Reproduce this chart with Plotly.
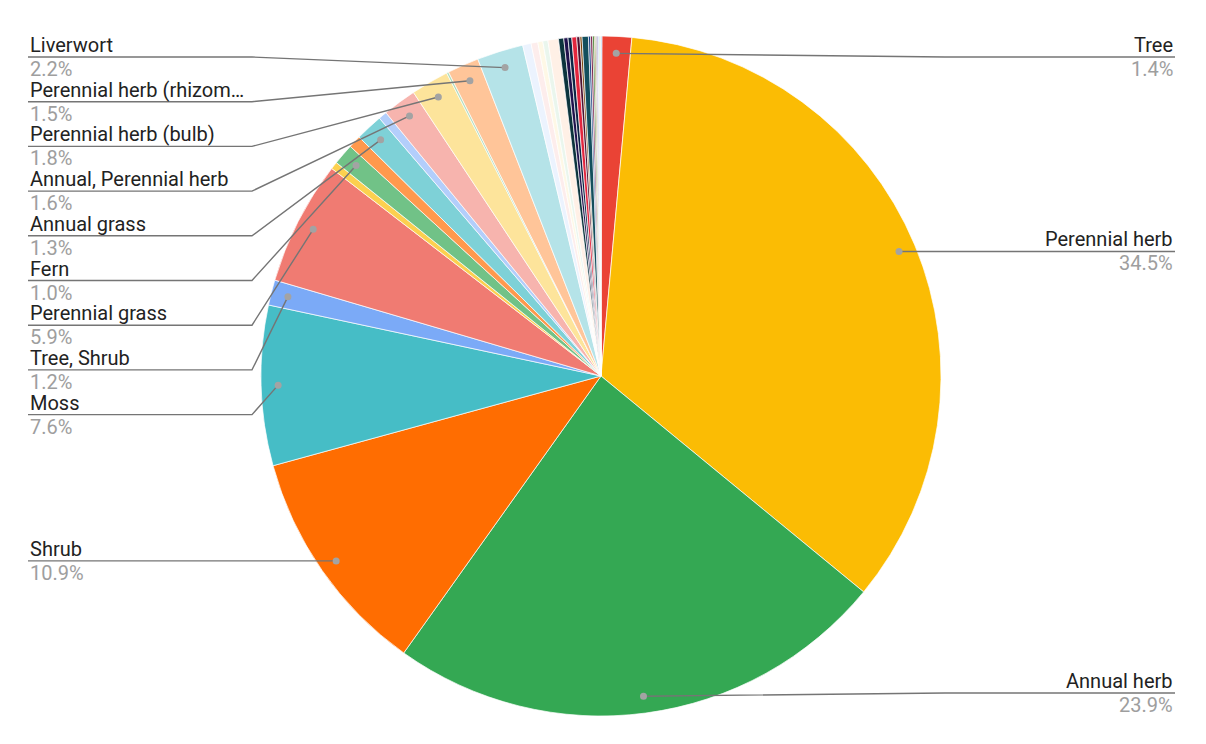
import plotly.graph_objects as go
import numpy as np

# slices in sheet order (clockwise from 12 o'clock)
names = ['Tree (seedling)', 'Tree', 'Perennial herb', 'Annual herb', 'Shrub', 'Moss',
         'Tree, Shrub', 'Perennial grass', 'Biennial herb', 'Fern', 'Vine',
         'Annual grass', 'Subshrub', 'Annual, Perennial herb', 'Perennial herb (bulb)',
         'Aquatic herb', 'Perennial herb (rhizome)', 'Liverwort',
         'Lichen', 'Hornwort', 'Succulent', 'Annual, Biennial herb', 'Perennial herb (tuber)',
         'Climber', 'Epiphyte', 'Parasite', 'Hemiparasite', 'Liana', 'Aquatic fern',
         'Tree fern', 'Cactus', 'Palm', 'Bamboo', 'Sedge', 'Rush', 'Clubmoss', 'Horsetail',
         'Geophyte', 'Cushion plant']
values = [0.05, 1.4, 34.5, 23.9, 10.9, 7.6,
          1.2, 5.9, 0.35, 1.0, 0.6,
          1.3, 0.4, 1.6, 1.8,
          0.1, 1.5, 2.2,
          0.4, 0.32, 0.24, 0.24, 0.5,
          0.25, 0.2, 0.18, 0.23, 0.15, 0.1, 0.3, 0.1, 0.1, 0.08, 0.06, 0.06, 0.05, 0.05,
          0.05, 0.04]
colors = ['#4285F4', '#EA4335', '#FBBC04', '#34A853', '#FF6D01', '#46BDC6',
          '#7BAAF7', '#F07B72', '#FCD04F', '#71C287', '#FF994D',
          '#7ED1D7', '#B3CEFB', '#F7B4AE', '#FDE49B',
          '#AEDCBA', '#FFC599', '#B5E3E8',
          '#ECF3FE', '#FDEDEC', '#FEF8E6', '#EAF6ED', '#FFF0E6',
          '#0C343D', '#20124D', '#0B2545', '#E2263E', '#4C1130', '#783F04', '#134F5C',
          '#1C4587', '#741B47', '#38761D', '#7F6000', '#999999', '#674EA7', '#A4C2F4',
          '#B6D7A8', '#D9EAD3']

W, H = 1206, 744
OFF = 8  # page body margin
mL, mR, mT, mB = 0, 20, 28, 36
pw, ph = W-mL-mR, H-mT-mB
cx, cy = OFF+mL+pw/2, OFF+mT+ph/2
R = min(pw, ph)/2
gap = 44.7
ytop, ybot = 57, 693
elbow = {'left': 252, 'right': 945}
textx = {'left': 28, 'right': 1175}

def px(x):
    return (x-OFF-mL)/pw

def py(y):
    return (mT+ph-(y-OFF))/ph

def spread(items):
    # items: list of (key, dot_y) sorted top to bottom
    clusters = []
    def place(cl):
        n = len(cl)
        c = np.mean([d for _, d in cl])
        top = max(c-(n-1)/2*gap, ytop)
        top = min(top, ybot-(n-1)*gap)
        return top
    for it in items:
        clusters.append([it])
        while len(clusters) > 1:
            prev, cur = clusters[-2], clusters[-1]
            if place(prev)+(len(prev)-1)*gap+gap > place(cur):
                clusters[-2] = prev+cur
                clusters.pop()
            else:
                break
    out = {}
    for cl in clusters:
        top = place(cl)
        for k, (key, _) in enumerate(cl):
            out[key] = top+k*gap
    return out

total = sum(values)
cum = np.cumsum(values)
mid = (cum-np.array(values)/2)/total*360
pct = np.array(values)/total*100

dots = {}
for i, v in enumerate(values):
    if pct[i] < 0.75:
        continue
    a = np.radians(mid[i])
    dx = cx+0.95*R*np.sin(a)
    dy = cy-0.95*R*np.cos(a)
    side = 'right' if mid[i] < 180 else 'left'
    dots[i] = (dx, dy, side)

ly = {}
for side in ['left', 'right']:
    items = sorted([(i, d[1]) for i, d in dots.items() if d[2] == side], key=lambda t: t[1])
    ly.update(spread(items))

fig = go.Figure(go.Pie(labels=names, values=values, sort=False, direction='clockwise',
                       rotation=0, textinfo='none', showlegend=False,
                       marker={'colors': colors, 'line': {'color': 'white', 'width': 0.7}},
                       hovertemplate='%{label}<br>%{value} (%{percent})<extra></extra>'))

shapes = []
annotations = []
for i, (dx, dy, side) in dots.items():
    y = ly[i]
    ex = elbow[side]
    if side == 'right':
        ex = max(ex, dx)
    else:
        ex = min(ex, dx)
    path = 'M {},{} L {},{} L {},{}'.format(px(dx), py(dy), px(ex), py(y), px(textx[side]), py(y))
    shapes.append(dict(type='path', path=path, xref='paper', yref='paper', layer='above',
                       line={'color': '#757575', 'width': 1.4}))
    shapes.append(dict(type='circle', xref='paper', yref='paper', xsizemode='pixel', ysizemode='pixel',
                       xanchor=px(dx), yanchor=py(dy), x0=-3.5, x1=3.5, y0=-3.5, y1=3.5,
                       layer='above', fillcolor='#a3a3a3', line={'width': 0}))
    name = names[i] if len(names[i]) <= 22 else names[i][:22]+'…'
    annotations.append(dict(x=px(textx[side]), y=py(y-12), xref='paper', yref='paper',
                            text=name, showarrow=False, xanchor=side, yanchor='middle',
                            font={'size': 20, 'color': '#222222'}))
    annotations.append(dict(x=px(textx[side]), y=py(y+12), xref='paper', yref='paper',
                            text='{:.1f}%'.format(pct[i]), showarrow=False, xanchor=side, yanchor='middle',
                            font={'size': 20, 'color': '#9e9e9e'}))

fig.update_layout(width=W, height=H, shapes=shapes, annotations=annotations,
                  margin={'l': mL, 'r': mR, 't': mT, 'b': mB},
                  paper_bgcolor='white', plot_bgcolor='white',
                  font={'family': 'Roboto, Arial', 'color': '#222222'})
fig.write_html('out.html')
